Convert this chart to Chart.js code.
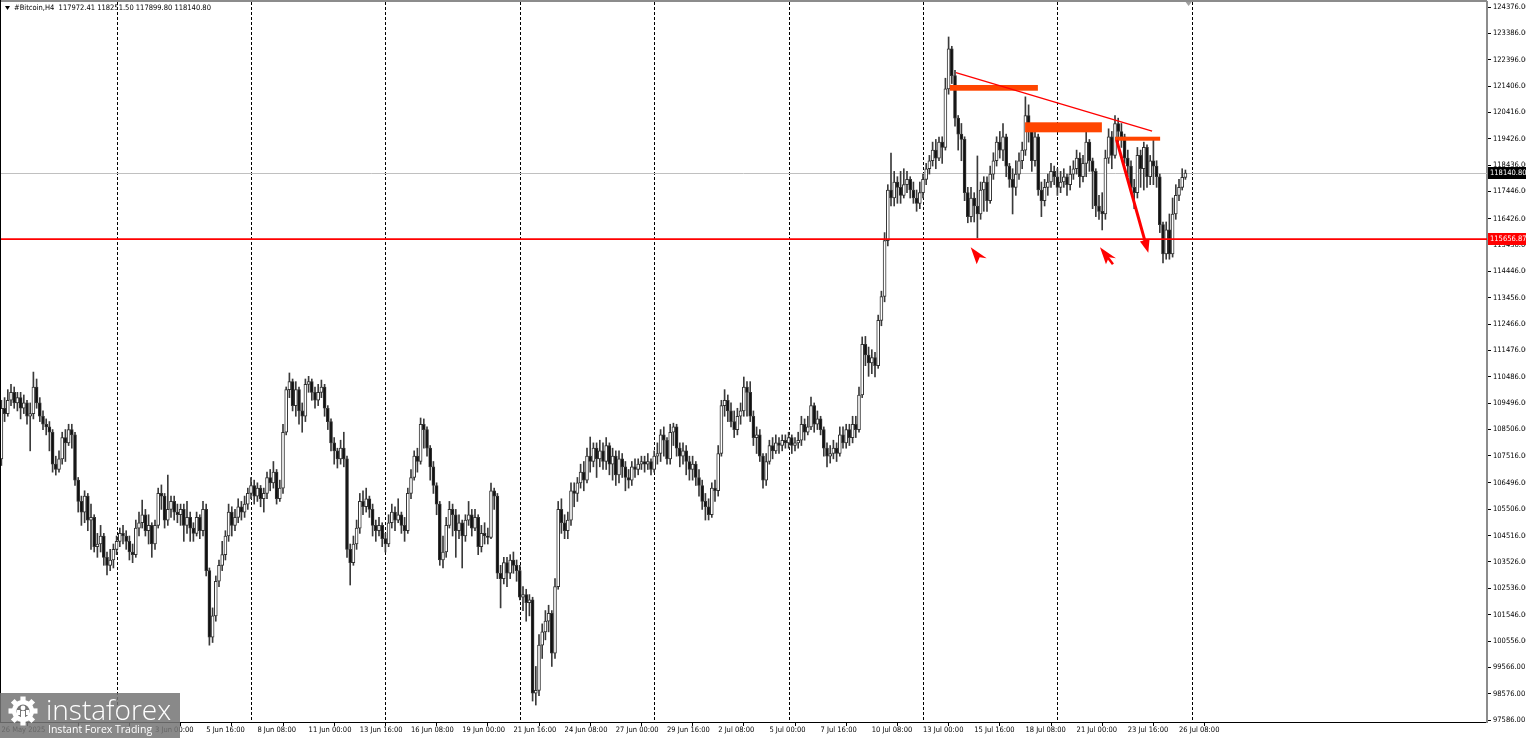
<!DOCTYPE html>
<html>
<head>
<meta charset="utf-8">
<title>#Bitcoin,H4</title>
<script src="https://cdn.jsdelivr.net/npm/chart.js@4.4.1/dist/chart.umd.min.js"></script>
<style>
  html, body { margin: 0; padding: 0; background: #fff; }
  #wrap { width: 1526px; height: 738px; }
</style>
</head>
<body>
<div id="wrap"><canvas id="chart" width="1526" height="738"></canvas></div>
<script>
// #Bitcoin H4 candles, 26 May 2025 00:00 .. 26 Jul 16:00 (bar index = 4h step)
const opens = [
  107400,109300,109100,109600,109900,109500,109700,109300,109500,109000,
  109100,110100,109500,109000,108700,108600,108400,107200,107000,107400,
  108200,108000,108500,108300,106600,105800,105400,106000,105100,105200,
  104100,104200,104500,103700,103400,103600,104000,104300,104600,104500,
  104300,103900,103800,104800,105000,105300,104700,104900,104200,104900,
  106100,106000,105100,105500,105800,105400,105300,105500,104900,105200,
  104800,104600,105200,104700,105500,103200,100700,101500,102800,103400,
  103800,104500,105400,104900,105200,105600,105400,105700,106100,106400,
  106000,106300,105900,106100,106700,106500,106900,105900,106300,108400,
  110000,110300,109400,110000,109200,109000,110200,110300,109900,109600,
  109900,110100,109300,108800,108000,107700,107400,107800,107400,104000,
  103500,104200,104800,105800,105600,105900,105500,104900,104700,104900,
  104400,104200,105000,105400,105100,105300,104900,104700,106100,106700,
  107500,107300,108700,108500,107800,107100,106400,105700,103600,103900,
  104900,105500,105300,104700,105000,104500,105100,105300,104800,105200,
  104100,104600,104500,104450,106200,106000,103100,102900,103500,103100,
  103600,103400,103200,102200,102300,102000,102100,98600,98700,100400,
  100900,101300,101600,100100,102600,105500,105000,104700,105100,106200,
  106100,106500,106900,106600,107500,107300,107800,107400,107700,107300,
  107900,107200,107500,106800,107400,107100,106700,106600,107100,107000,
  107200,107300,107200,107300,107000,107500,107600,108300,108100,107400,
  108400,108600,107800,107500,107700,107300,107000,107200,106700,106400,
  105800,105600,105300,106300,106200,107600,109400,109600,109200,108800,
  108500,109000,109200,110100,109900,109000,108200,108300,107500,106600,
  107300,107900,107700,108000,107900,108100,108000,108200,107900,108000,
  108100,108700,108400,108600,109400,108700,108900,108500,107800,107500,
  107600,107800,107600,108300,108000,108500,108200,108700,108500,109800,
  111700,111300,111000,111200,110900,112600,113500,115600,117500,117200,
  117800,117600,117300,117700,117900,117500,117200,117000,117400,117900,
  118300,118600,119000,118700,119300,119100,121300,122800,121800,120200,
  119600,119400,117400,116500,117200,116900,116600,117500,117800,117100,
  118100,118600,119300,119000,119500,118400,117900,117600,118100,118600,
  119000,120300,119700,118600,119500,117500,117100,117600,117800,118200,
  118000,117600,117800,118000,117700,118100,118300,118700,118000,118500,
  119300,118600,118200,116900,116700,116600,118700,119500,118800,120000,
  119700,119500,118700,118400,117600,117400,118800,118300,119100,118000,
  118600,118400,118000,116200,115100,116000,115100,116600,117300,117600,
  117972.41
];
const highs = [
  109600,109700,110000,110200,110100,109900,109900,109800,109600,109500,
  110660,110400,109700,109200,108900,108800,108500,107500,107700,108400,
  108500,108700,108700,108400,106700,106000,106200,106100,105700,105300,
  104600,104900,104600,103900,104000,104200,104500,104800,104900,104700,
  104500,104200,105100,105400,105850,105500,105300,105000,105100,106300,
  106420,106100,106790,106000,106000,105700,105700,105700,105800,105400,
  105000,105400,105300,105800,105700,103300,101800,103000,103600,104300,
  104700,105700,105600,105500,105900,105800,106000,106300,106700,106600,
  106500,106400,106300,106900,107000,107300,107000,106600,108700,110100,
  110626,110400,110300,110100,109500,110400,110500,110400,110100,110200,
  110360,110200,109400,108900,108200,107800,108100,108400,107500,104200,
  104500,105100,106100,106200,106300,106000,105700,105100,105200,105000,
  104600,105300,105700,105600,105900,105400,105200,106300,107000,107700,
  107800,108935,108900,108600,107900,107300,106500,105800,104500,105200,
  105800,105700,105500,105300,105100,105300,105800,105500,105500,105300,
  104900,105000,104800,106490,106300,106100,103400,103700,103700,103800,
  103900,103600,103400,102600,102500,102300,102200,99600,100800,101200,
  101700,101900,101700,102900,105800,105900,105300,105400,106500,106500,
  106700,107200,107300,107800,108220,108000,108000,108100,108000,108200,
  108000,107800,107700,107700,107600,107300,107000,107300,107400,107400,
  107500,107500,107600,107400,107700,108000,108500,108600,108200,108700,
  108740,108700,108000,108000,107900,107500,107500,107300,107000,106600,
  106100,105900,106500,106600,107900,109600,110000,109800,109500,109200,
  109300,109500,110475,110300,110300,109200,108600,108500,107600,107600,
  108100,108200,108300,108200,108300,108300,108400,108300,108200,108400,
  109000,108900,109000,109725,109500,109200,109000,108600,108000,107900,
  108100,108000,108600,108600,108700,108700,109000,109000,110100,111980,
  112000,111600,111500,111400,112800,113700,115900,117700,118890,118200,
  118000,118200,118300,118200,118000,117800,117500,117800,118100,118500,
  118800,119300,119400,119490,119500,121700,123250,122900,122000,120300,
  120000,119500,117600,117600,117400,118780,117800,118000,118000,118400,
  118900,119500,119700,120000,119600,118500,118300,118600,118900,119300,
  121000,120700,119900,119800,119600,117800,117900,118100,118500,118400,
  118300,118200,118300,118100,118400,118600,119000,118900,118800,119700,
  119400,118700,118300,117300,117400,119000,119800,119700,120300,120200,
  120000,119600,119000,118600,117900,119100,119000,119300,119200,118800,
  119480,118600,118100,116300,116300,116600,117200,117700,117900,118300,
  118251.5
];
const lows = [
  107150,108800,109000,109400,109300,109200,108900,109100,108700,107700,
  108900,109300,108800,108500,108300,107700,106900,106790,106900,107200,
  107300,107900,107800,106400,105400,104900,105000,104700,104000,103900,
  103700,103900,103400,103040,103200,103300,103800,104100,104200,104000,
  103600,103500,103700,104500,104800,104500,104200,103700,104000,104800,
  105500,104800,104900,105200,105100,105000,104900,104300,104600,104300,
  104300,104500,104400,104500,103000,100400,100500,101300,102600,103200,
  103600,104300,104500,104700,105000,105100,105200,105500,105900,105700,
  105800,105600,105400,105900,106200,106300,105700,105800,106100,108300,
  109700,109200,109000,108700,108400,108800,109900,109600,109300,109400,
  109700,109000,108500,107700,107200,107055,107200,107100,103700,102660,
  103400,104000,104600,105300,105400,105200,104500,104300,104500,104100,
  103900,104100,104800,104700,105000,104600,104300,104600,105900,106600,
  106900,107200,107800,107500,106600,106100,105300,103400,103300,103700,
  104800,104500,103700,104400,103300,104300,104900,104500,104700,103800,
  103900,104200,104200,104400,105500,102900,101800,102700,102600,102900,
  103100,102800,102100,101700,101300,101500,98300,98150,98500,99900,
  100600,100900,99600,99900,102500,104600,104400,104400,104900,105600,
  105800,106300,106200,106500,106900,107100,106700,107100,107000,107000,
  106800,106600,106400,106500,106700,106200,106300,106400,106700,106800,
  107000,106900,107000,106800,106900,107200,107300,107500,107200,107200,
  107900,107500,107100,107200,106800,106600,106600,106400,106000,105500,
  105100,105103,105200,105800,106000,107500,109000,108800,108600,108200,
  108300,108700,109000,109000,108800,107900,107600,107300,106300,106400,
  107200,107400,107600,107600,107700,107800,107800,107600,107700,107800,
  107900,108100,108300,108500,108400,108500,108300,107500,107100,107240,
  107400,107300,107500,107800,107800,107900,108000,108200,108400,109700,
  110900,110500,110600,110475,110800,112400,113300,115400,116900,116900,
  117000,117000,117200,117400,117200,117000,116700,116800,117200,117700,
  118100,118400,118300,118600,118500,119000,121100,121500,119900,119000,
  118600,117100,116270,116300,116300,115700,116400,116700,116700,117000,
  117900,118400,118700,118600,118000,117600,116600,117300,117900,118300,
  118800,119300,118200,118400,117300,116500,116900,117300,117600,117700,
  117300,117400,117600,117300,117500,117900,118100,117600,117800,118000,
  118200,116800,116500,116400,116000,116400,118500,118300,118700,119300,
  119100,118500,118000,117400,116800,117200,117600,117500,117600,117700,
  117700,117600,115900,114760,114900,114900,114980,116400,117100,117500,
  117899.8
];
const closes = [
  109300,109100,109600,109900,109500,109700,109300,109500,109000,109100,
  110100,109500,109000,108700,108600,108400,107200,107000,107400,108200,
  108000,108500,108300,106600,105800,105400,106000,105100,105200,104100,
  104200,104500,103700,103400,103600,104000,104300,104600,104500,104300,
  103900,103800,104800,105000,105300,104700,104900,104200,104900,106100,
  106000,105100,105500,105800,105400,105300,105500,104900,105200,104800,
  104600,105200,104700,105500,103200,100700,101500,102800,103400,103800,
  104500,105400,104900,105200,105600,105400,105700,106100,106400,106000,
  106300,105900,106100,106700,106500,106900,105900,106300,108400,110000,
  110300,109400,110000,109200,109000,110200,110300,109900,109600,109900,
  110100,109300,108800,108000,107700,107400,107800,107400,104000,103500,
  104200,104800,105800,105600,105900,105500,104900,104700,104900,104400,
  104200,105000,105400,105100,105300,104900,104700,106100,106700,107500,
  107300,108700,108500,107800,107100,106400,105700,103600,103900,104900,
  105500,105300,104700,105000,104500,105100,105300,104800,105200,104100,
  104600,104500,104450,106200,106000,103100,102900,103500,103100,103600,
  103400,103200,102200,102300,102000,102100,98600,98700,100400,100900,
  101300,101600,100100,102600,105500,105000,104700,105100,106200,106100,
  106500,106900,106600,107500,107300,107800,107400,107700,107300,107900,
  107200,107500,106800,107400,107100,106700,106600,107100,107000,107200,
  107300,107200,107300,107000,107500,107600,108300,108100,107400,108400,
  108600,107800,107500,107700,107300,107000,107200,106700,106400,105800,
  105600,105300,106300,106200,107600,109400,109600,109200,108800,108500,
  109000,109200,110100,109900,109000,108200,108300,107500,106600,107300,
  107900,107700,108000,107900,108100,108000,108200,107900,108000,108100,
  108700,108400,108600,109400,108700,108900,108500,107800,107500,107600,
  107800,107600,108300,108000,108500,108200,108700,108500,109800,111700,
  111300,111000,111200,110900,112600,113500,115600,117500,117200,117800,
  117600,117300,117700,117900,117500,117200,117000,117400,117900,118300,
  118600,119000,118700,119300,119100,121300,122800,121800,120200,119600,
  119400,117400,116500,117200,116900,116600,117500,117800,117100,118100,
  118600,119300,119000,119500,118400,117900,117600,118100,118600,119000,
  120300,119700,118600,119500,117500,117100,117600,117800,118200,118000,
  117600,117800,118000,117700,118100,118300,118700,118000,118500,119300,
  118600,118200,116900,116700,116600,118700,119500,118800,120000,119700,
  119500,118700,118400,117600,117400,118800,118300,119100,118000,118600,
  118400,118000,116200,115100,116000,115100,116600,117300,117600,117972.41,
  118140.8
];

// time axis: label every 16 bars, weekly dotted grid
const xTickBars = [0, 16, 32, 48, 64, 80, 96, 112, 128, 144, 160, 176, 192, 208, 224, 240, 256, 272, 288, 304, 320, 336, 352, 368];
const xTickLabels = ['26 May 2025', '', '', '3 Jun 00:00', '5 Jun 16:00', '8 Jun 08:00', '11 Jun 00:00', '13 Jun 16:00',
  '16 Jun 08:00', '19 Jun 00:00', '21 Jun 16:00', '24 Jun 08:00', '27 Jun 00:00', '29 Jun 16:00', '2 Jul 08:00',
  '5 Jul 00:00', '7 Jul 16:00', '10 Jul 08:00', '13 Jul 00:00', '15 Jul 16:00', '18 Jul 08:00', '21 Jul 00:00',
  '23 Jul 16:00', '26 Jul 08:00'];
const gridBars = [36, 78, 120, 162, 204, 246, 288, 330, 372];

// price axis labels as printed by the terminal
const yTicks = [124376, 123386, 122396, 121406, 120416, 119426, 118436, 117446, 116426, 115436, 114446, 113456,
  112466, 111476, 110486, 109496, 108506, 107516, 106496, 105506, 104516, 103526, 102536, 101546, 100556,
  99566, 98576, 97586];

// drawings on the chart (bar index, price)
const supportLevel = 115656.87;
const bidPrice = 118140.80;
const trendLine = [[298.3, 121908], [359.6, 119717]];
const zones = [[296.4, 323.9, 121446, 121231], [319.9, 343.9, 120044, 119668], [348.0, 362.1, 119503, 119353]];
const moveArrow = [[348.5, 119379], [358.4, 115145]];
const pointers = [[302.9, 115348], [343.3, 115348]];

const xMin = -0.4375, xMax = 464.25;
const yMin = 97513, yMax = 124564;
const FONT = "'DejaVu Sans Condensed', 'DejaVu Sans', sans-serif";

const bodyData = closes.map((c, i) => ({ x: i, y: [opens[i], c] }));
const wickData = closes.map((c, i) => ({ x: i, y: [lows[i], highs[i]] }));
const bodyColors = closes.map((c, i) => (c >= opens[i] ? '#ffffff' : '#111111'));

function arrowHead(ctx, x1, y1, x2, y2, len, half) {
  const a = Math.atan2(y2 - y1, x2 - x1);
  ctx.beginPath();
  ctx.moveTo(x2, y2);
  ctx.lineTo(x2 - len * Math.cos(a) + half * Math.sin(a), y2 - len * Math.sin(a) - half * Math.cos(a));
  ctx.lineTo(x2 - len * Math.cos(a) - half * Math.sin(a), y2 - len * Math.sin(a) + half * Math.cos(a));
  ctx.closePath();
  ctx.fill();
}

function drawLogo(ctx) {
  ctx.save();
  ctx.fillStyle = 'rgba(118,118,118,0.86)';
  ctx.fillRect(0, 693, 180, 45);
  const cx = 23, cy = 711, r = 11;
  ctx.fillStyle = '#ffffff';
  for (let k = 0; k < 8; k++) {
    ctx.save();
    ctx.translate(cx, cy);
    ctx.rotate(k * Math.PI / 4);
    ctx.fillRect(-2.6, -r - 3.5, 5.2, 6);
    ctx.restore();
  }
  ctx.beginPath(); ctx.arc(cx, cy, r, 0, Math.PI * 2); ctx.fill();
  ctx.fillStyle = 'rgb(118,118,118)';
  ctx.beginPath(); ctx.arc(cx, cy, 6.5, 0, Math.PI * 2); ctx.fill();
  ctx.fillStyle = '#ffffff';
  ctx.beginPath(); ctx.arc(cx, cy - 3, 2.4, 0, Math.PI * 2); ctx.fill();
  ctx.fillRect(cx - 2, cy, 4, 10);
  ctx.fillRect(cx - 6, cy - 1, 3, 5);
  ctx.fillRect(cx + 3, cy - 1, 3, 5);
  ctx.font = "300 28px 'Open Sans', 'DejaVu Sans', sans-serif";
  ctx.textBaseline = 'alphabetic';
  ctx.fillText('instaforex', 46, 720);
  ctx.font = "10.5px 'Open Sans', 'DejaVu Sans', sans-serif";
  ctx.fillText('Instant Forex Trading', 48, 733);
  ctx.restore();
}

const overlay = {
  id: 'overlay',
  beforeDraw(chart) {
    const ctx = chart.ctx;
    ctx.save();
    ctx.fillStyle = '#ffffff';
    ctx.fillRect(0, 0, chart.width, chart.height);
    ctx.restore();
  },
  beforeDatasetsDraw(chart) {
    const { ctx, chartArea: a, scales: { x, y } } = chart;
    ctx.save();
    ctx.strokeStyle = '#000000';
    ctx.lineWidth = 1;
    ctx.setLineDash([3, 2]);
    gridBars.forEach(b => {
      const px = Math.round(x.getPixelForValue(b)) + 0.5;
      ctx.beginPath(); ctx.moveTo(px, a.top); ctx.lineTo(px, a.bottom); ctx.stroke();
    });
    ctx.setLineDash([]);
    ctx.strokeStyle = '#c0c0c0';
    const by = Math.round(y.getPixelForValue(bidPrice)) + 0.5;
    ctx.beginPath(); ctx.moveTo(a.left, by); ctx.lineTo(a.right, by); ctx.stroke();
    ctx.restore();
  },
  afterDatasetsDraw(chart) {
    const { ctx, chartArea: a, scales: { x, y } } = chart;
    ctx.save();
    // support level
    ctx.strokeStyle = '#ff0000';
    ctx.lineWidth = 1.6;
    const sy = y.getPixelForValue(supportLevel);
    ctx.beginPath(); ctx.moveTo(a.left, sy); ctx.lineTo(a.right, sy); ctx.stroke();
    // zones
    ctx.fillStyle = '#ff4500';
    zones.forEach(([b0, b1, p0, p1]) => {
      const x0 = x.getPixelForValue(b0), x1 = x.getPixelForValue(b1);
      const y0 = y.getPixelForValue(p0), y1 = y.getPixelForValue(p1);
      ctx.fillRect(x0, y0, x1 - x0, y1 - y0);
    });
    // trend line
    ctx.strokeStyle = '#ff0000';
    ctx.lineWidth = 1.3;
    ctx.beginPath();
    ctx.moveTo(x.getPixelForValue(trendLine[0][0]), y.getPixelForValue(trendLine[0][1]));
    ctx.lineTo(x.getPixelForValue(trendLine[1][0]), y.getPixelForValue(trendLine[1][1]));
    ctx.stroke();
    // move arrow
    const ax1 = x.getPixelForValue(moveArrow[0][0]), ay1 = y.getPixelForValue(moveArrow[0][1]);
    const ax2 = x.getPixelForValue(moveArrow[1][0]), ay2 = y.getPixelForValue(moveArrow[1][1]);
    const ang = Math.atan2(ay2 - ay1, ax2 - ax1);
    ctx.lineWidth = 3;
    ctx.beginPath();
    ctx.moveTo(ax1, ay1);
    ctx.lineTo(ax2 - 10 * Math.cos(ang), ay2 - 10 * Math.sin(ang));
    ctx.stroke();
    ctx.fillStyle = '#ff0000';
    arrowHead(ctx, ax1, ay1, ax2, ay2, 13, 5);
    // pointers
    pointers.forEach(([b, p], k) => {
      const px = x.getPixelForValue(b), py = y.getPixelForValue(p);
      ctx.beginPath();
      ctx.moveTo(px, py);
      ctx.lineTo(px + 16, py + 11);
      ctx.lineTo(px + 9, py + 10);
      ctx.lineTo(px + 6, py + 17);
      ctx.closePath();
      ctx.fill();
      if (k === 1) {
        ctx.lineWidth = 2.5;
        ctx.beginPath(); ctx.moveTo(px + 7, py + 9); ctx.lineTo(px + 13, py + 17); ctx.stroke();
      }
    });
    ctx.restore();
  },
  afterDraw(chart) {
    const { ctx, chartArea: a, scales: { x, y } } = chart;
    ctx.save();
    // frame
    ctx.fillStyle = '#8c8c8c';
    ctx.fillRect(0, 0, a.right, 2);
    ctx.fillStyle = '#000000';
    ctx.fillRect(0, 0, 1, a.bottom);
    // chart shift marker
    const sx = x.getPixelForValue(371);
    ctx.fillStyle = '#a0a0a0';
    ctx.beginPath(); ctx.moveTo(sx - 3, 2); ctx.lineTo(sx + 3, 2); ctx.lineTo(sx, 6); ctx.closePath(); ctx.fill();
    // header
    ctx.fillStyle = '#000000';
    ctx.beginPath(); ctx.moveTo(5, 6); ctx.lineTo(10, 6); ctx.lineTo(7.5, 10); ctx.closePath(); ctx.fill();
    ctx.font = '7.5px ' + FONT;
    ctx.textBaseline = 'middle';
    ctx.fillText('#Bitcoin,H4  117972.41 118251.50 117899.80 118140.80', 14, 8.5);
    // price tags
    const tag = (price, bg) => {
      const py = Math.round(y.getPixelForValue(price));
      ctx.fillStyle = bg;
      ctx.fillRect(a.right + 1, py - 6, chart.width - a.right - 1, 12);
      ctx.fillStyle = '#ffffff';
      ctx.fillText(price.toFixed(2), a.right + 3, py + 0.5);
    };
    tag(bidPrice, '#000000');
    tag(supportLevel, '#ff0000');
    ctx.restore();
    drawLogo(ctx);
  }
};

Chart.defaults.font.family = FONT;
Chart.defaults.font.size = 7.5;
Chart.defaults.color = '#000000';

function noPad(s) {
  s.paddingTop = 0; s.paddingBottom = 0; s.paddingLeft = 0; s.paddingRight = 0;
}

new Chart(document.getElementById('chart'), {
  type: 'bar',
  data: {
    datasets: [
      {
        label: 'body', data: bodyData, grouped: false, barThickness: 3, minBarLength: 1,
        backgroundColor: bodyColors, borderColor: '#333333', borderWidth: 1, borderSkipped: false
      },
      {
        label: 'wick', data: wickData, grouped: false, barThickness: 1,
        backgroundColor: '#3a3a3a', borderWidth: 0
      }
    ]
  },
  options: {
    responsive: false,
    animation: false,
    devicePixelRatio: 1,
    layout: { padding: { top: 2, left: 0, right: 0, bottom: 0 } },
    plugins: { legend: { display: false }, tooltip: { enabled: false } },
    scales: {
      x: {
        type: 'linear', min: xMin, max: xMax, offset: false,
        grid: { drawOnChartArea: false, drawTicks: true, tickLength: 4, color: '#000000', tickColor: '#000000' },
        border: { display: true, color: '#000000', width: 1 },
        ticks: {
          autoSkip: false, maxRotation: 0, minRotation: 0, align: 'start', padding: 0, color: '#000000',
          callback: v => { const k = xTickBars.indexOf(v); return k < 0 ? '' : xTickLabels[k]; }
        },
        afterBuildTicks: s => { s.ticks = xTickBars.map(v => ({ value: v })); },
        afterFit: s => { s.height = 16; noPad(s); }
      },
      y: {
        position: 'right', min: yMin, max: yMax,
        grid: { drawOnChartArea: false, drawTicks: true, tickLength: 4, color: '#000000', tickColor: '#000000' },
        border: { display: true, color: '#8c8c8c', width: 2 },
        ticks: { padding: 2, color: '#000000', callback: v => v.toFixed(2) },
        afterBuildTicks: s => { s.ticks = yTicks.map(v => ({ value: v })); },
        afterFit: s => { s.width = 39; noPad(s); }
      }
    }
  },
  plugins: [overlay]
});
</script>
</body>
</html>
